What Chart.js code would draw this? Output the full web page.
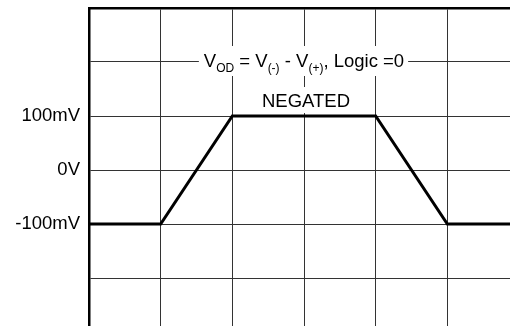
<!DOCTYPE html>
<html>
<head>
<meta charset="utf-8">
<script src="https://cdn.jsdelivr.net/npm/chart.js@4/dist/chart.umd.min.js"></script>
<style>
html,body{margin:0;padding:0;background:#fff;overflow:hidden;width:510px;height:326px;}
canvas{display:block;}
</style>
</head>
<body>
<canvas id="c" width="530" height="340"></canvas>
<script>
// Data (x in time divisions, y in mV)
const timeDivs = [0, 1, 2, 4, 5, 6];
const vodValues = [-100, -100, 100, 100, -100, -100];
const tickValues = [-100, 0, 100];
const tickLabels = ['-100mV', '0V', '100mV'];
const annotationLine1 = [
  {t: 'V', sub: false}, {t: 'OD', sub: true}, {t: ' = V', sub: false},
  {t: '(-)', sub: true}, {t: ' - V', sub: false}, {t: '(+)', sub: true},
  {t: ', Logic =0', sub: false}
];
const annotationLine2 = 'NEGATED';

const FONT = 'Liberation Sans, Arial, sans-serif';

const annot = {
  id: 'annot',
  beforeDatasetsDraw(chart) {
    const ctx = chart.ctx;
    const xs = chart.scales.x, ys = chart.scales.y;
    const cx = xs.getPixelForValue(3);
    const yTop = ys.getPixelForValue(200);
    ctx.save();
    ctx.textBaseline = 'alphabetic';
    ctx.textAlign = 'left';
    // line 1
    let total = 0;
    const widths = annotationLine1.map(s => {
      ctx.font = (s.sub ? '12px ' : '18.5px ') + FONT;
      const w = ctx.measureText(s.t).width;
      total += w;
      return w;
    });
    const base1 = yTop + 5;
    let x = cx - total / 2;
    ctx.fillStyle = '#fff';
    ctx.fillRect(x - 5, yTop - 16, total + 9, 30);
    ctx.fillStyle = '#000';
    annotationLine1.forEach((s, i) => {
      ctx.font = (s.sub ? '12px ' : '18.5px ') + FONT;
      ctx.fillText(s.t, x, s.sub ? base1 + 5 : base1);
      x += widths[i];
    });
    // line 2
    ctx.font = '18.5px ' + FONT;
    const w2 = ctx.measureText(annotationLine2).width;
    const base2 = yTop + 45;
    ctx.fillStyle = '#fff';
    ctx.fillRect(cx - w2 / 2 - 4, base2 - 20, w2 + 8, 26);
    ctx.fillStyle = '#000';
    ctx.textAlign = 'center';
    ctx.fillText(annotationLine2, cx + 2, base2);
    ctx.restore();
  }
};

new Chart(document.getElementById('c'), {
  type: 'scatter',
  data: {
    datasets: [{
      data: timeDivs.map((t, i) => ({x: t, y: vodValues[i]})),
      showLine: true,
      borderColor: '#000',
      borderWidth: 3,
      pointRadius: 0,
      tension: 0,
      borderJoinStyle: 'miter'
    }]
  },
  options: {
    responsive: false,
    animation: false,
    devicePixelRatio: 1,
    layout: {padding: {top: 8, right: 11, bottom: 8, left: 0}},
    plugins: {legend: {display: false}, tooltip: {enabled: false}},
    scales: {
      x: {
        type: 'linear', position: 'top', min: 0, max: 6,
        ticks: {display: false, stepSize: 1},
        grid: {color: '#333', lineWidth: 1, drawTicks: false},
        border: {display: true, color: '#000', width: 2.5},
        afterFit(s) { s.height = 0; s.paddingLeft = 0; s.paddingRight = 0; }
      },
      y: {
        type: 'linear', min: -300, max: 300,
        ticks: {
          stepSize: 100, padding: 9, color: '#000',
          font: {family: FONT, size: 18.5},
          callback: v => { const i = tickValues.indexOf(v); return i >= 0 ? tickLabels[i] : ''; }
        },
        grid: {color: '#333', lineWidth: 1, drawTicks: false},
        border: {display: true, color: '#000', width: 2.5},
        afterFit(s) { s.width = 89; s.paddingTop = 0; s.paddingBottom = 0; }
      }
    }
  },
  plugins: [annot]
});
</script>
</body>
</html>
